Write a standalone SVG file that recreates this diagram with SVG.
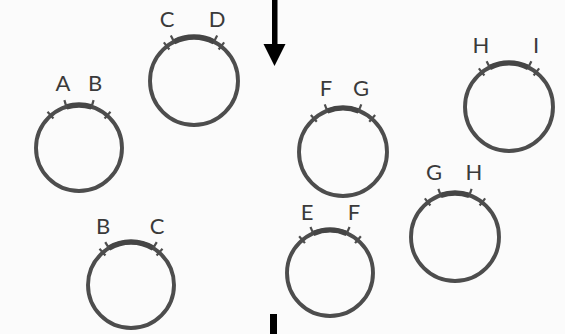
<svg xmlns="http://www.w3.org/2000/svg" width="565" height="334" viewBox="0 0 565 334">
<style>
.ring{fill:none;stroke:#4d4d4d;stroke-width:3.9}
.arc{fill:none;stroke:#454545;stroke-width:5.4}
.tick{stroke:#4d4d4d;stroke-width:2.2;stroke-linecap:butt}
.lbl{font-family:Lato,"Open Sans","Liberation Sans",sans-serif;font-size:22px;fill:#3a3a3a;text-anchor:middle}
.arrow{fill:#000}
</style>
<rect width="565" height="334" fill="#fbfbfb"/>
<g id="node-AB">
<g transform="translate(79,148)">
<circle class="ring" r="43"/>
<path class="arc" d="M-12.57,-41.12 A43,43 0 0 1 12.57,-41.12"/>
<line class="tick" x1="0" y1="-50" x2="0" y2="-43" transform="rotate(-17)"/>
<line class="tick" x1="0" y1="-50" x2="0" y2="-43" transform="rotate(17)"/>
<line class="tick" x1="0" y1="-48" x2="0" y2="-39" transform="rotate(-41)"/>
<line class="tick" x1="0" y1="-48" x2="0" y2="-39" transform="rotate(41)"/>
</g>
<text class="lbl" x="63" y="91">A</text>
<text class="lbl" x="95" y="91">B</text>
</g>
<g id="node-CD">
<g transform="translate(194,81)">
<circle class="ring" r="44"/>
<path class="arc" d="M-19.98,-39.2 A44,44 0 0 1 19.98,-39.2"/>
<line class="tick" x1="0" y1="-51" x2="0" y2="-44" transform="rotate(-27)"/>
<line class="tick" x1="0" y1="-51" x2="0" y2="-44" transform="rotate(27)"/>
<line class="tick" x1="0" y1="-49" x2="0" y2="-40" transform="rotate(-38)"/>
<line class="tick" x1="0" y1="-49" x2="0" y2="-40" transform="rotate(38)"/>
</g>
<text class="lbl" x="167" y="27">C</text>
<text class="lbl" x="217" y="27">D</text>
</g>
<g id="node-BC">
<g transform="translate(131,285)">
<circle class="ring" r="43"/>
<path class="arc" d="M-22.15,-36.86 A43,43 0 0 1 22.15,-36.86"/>
<line class="tick" x1="0" y1="-50" x2="0" y2="-43" transform="rotate(-31)"/>
<line class="tick" x1="0" y1="-50" x2="0" y2="-43" transform="rotate(31)"/>
<line class="tick" x1="0" y1="-48" x2="0" y2="-39" transform="rotate(-41)"/>
<line class="tick" x1="0" y1="-48" x2="0" y2="-39" transform="rotate(41)"/>
</g>
<text class="lbl" x="103" y="234">B</text>
<text class="lbl" x="157" y="234">C</text>
</g>
<g id="node-FG">
<g transform="translate(343,152)">
<circle class="ring" r="44"/>
<path class="arc" d="M-15.77,-41.08 A44,44 0 0 1 15.77,-41.08"/>
<line class="tick" x1="0" y1="-51" x2="0" y2="-44" transform="rotate(-21)"/>
<line class="tick" x1="0" y1="-51" x2="0" y2="-44" transform="rotate(21)"/>
<line class="tick" x1="0" y1="-49" x2="0" y2="-40" transform="rotate(-41)"/>
<line class="tick" x1="0" y1="-49" x2="0" y2="-40" transform="rotate(41)"/>
</g>
<text class="lbl" x="326" y="96">F</text>
<text class="lbl" x="361" y="96">G</text>
</g>
<g id="node-HI">
<g transform="translate(509,107)">
<circle class="ring" r="44"/>
<path class="arc" d="M-19.29,-39.55 A44,44 0 0 1 19.29,-39.55"/>
<line class="tick" x1="0" y1="-51" x2="0" y2="-44" transform="rotate(-26)"/>
<line class="tick" x1="0" y1="-51" x2="0" y2="-44" transform="rotate(26)"/>
<line class="tick" x1="0" y1="-49" x2="0" y2="-40" transform="rotate(-38)"/>
<line class="tick" x1="0" y1="-49" x2="0" y2="-40" transform="rotate(38)"/>
</g>
<text class="lbl" x="481" y="53">H</text>
<text class="lbl" x="536" y="53">I</text>
</g>
<g id="node-GH">
<g transform="translate(455,237)">
<circle class="ring" r="44"/>
<path class="arc" d="M-14.33,-41.6 A44,44 0 0 1 14.33,-41.6"/>
<line class="tick" x1="0" y1="-51" x2="0" y2="-44" transform="rotate(-19)"/>
<line class="tick" x1="0" y1="-51" x2="0" y2="-44" transform="rotate(19)"/>
<line class="tick" x1="0" y1="-49" x2="0" y2="-40" transform="rotate(-38)"/>
<line class="tick" x1="0" y1="-49" x2="0" y2="-40" transform="rotate(38)"/>
</g>
<text class="lbl" x="434" y="180">G</text>
<text class="lbl" x="474" y="180">H</text>
</g>
<g id="node-EF">
<g transform="translate(330,273)">
<circle class="ring" r="43"/>
<path class="arc" d="M-16.8,-39.58 A43,43 0 0 1 16.8,-39.58"/>
<line class="tick" x1="0" y1="-50" x2="0" y2="-43" transform="rotate(-23)"/>
<line class="tick" x1="0" y1="-50" x2="0" y2="-43" transform="rotate(23)"/>
<line class="tick" x1="0" y1="-48" x2="0" y2="-39" transform="rotate(-40)"/>
<line class="tick" x1="0" y1="-48" x2="0" y2="-39" transform="rotate(40)"/>
</g>
<text class="lbl" x="307" y="220">E</text>
<text class="lbl" x="354" y="220">F</text>
</g>
<g id="connectors">
<rect class="arrow" x="272" y="0" width="5.5" height="46"/>
<polygon class="arrow" points="263.5,44 285.5,44 274.5,66"/>
<rect class="arrow" x="270" y="314" width="7" height="20"/>
</g>
</svg>
